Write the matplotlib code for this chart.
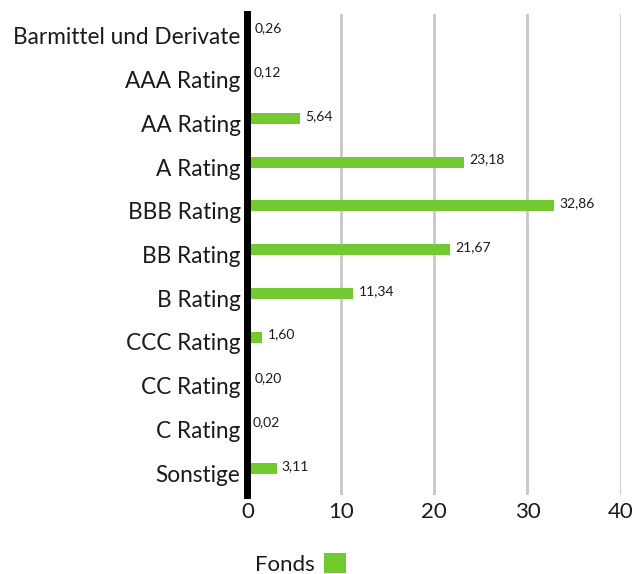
import numpy as np
import matplotlib
matplotlib.use("Agg")
import matplotlib.pyplot as plt

plt.rcParams['font.family'] = ['Lato', 'DejaVu Sans']

categories = ["Barmittel und Derivate", "AAA Rating", "AA Rating", "A Rating",
              "BBB Rating", "BB Rating", "B Rating", "CCC Rating", "CC Rating",
              "C Rating", "Sonstige"]
fonds = [0.26, 0.12, 5.64, 23.18, 32.86, 21.67, 11.34, 1.60, 0.20, 0.02, 3.11]
series_name = "Fonds"
xticks = [0, 10, 20, 30, 40]

green = "#72c930"
text_col = "#1a1a1a"

fig = plt.figure(figsize=(6.35, 5.74), dpi=100)
ax = fig.add_axes([247.5 / 635, 1 - 495 / 574, 373.2 / 635, 481 / 574])

y = np.arange(len(categories))
ax.barh(y - 0.11, fonds, height=0.25, color=green, label=series_name, zorder=3)

for yi, v in zip(y, fonds):
    ax.text(v + 0.55, yi - 0.17, f"{v:.2f}".replace(".", ","), fontsize=10,
            color=text_col, va="center", ha="left", zorder=4)

ax.set_xlim(0, 40)
ax.set_ylim(len(categories) - 0.5, -0.5)
ax.set_yticks(y)
ax.set_yticklabels(categories, fontsize=16.3, color=text_col)
ax.set_xticks(xticks)
ax.set_xticklabels([str(t) for t in xticks], fontsize=16, color=text_col)

ax.grid(axis="x", color="#c8c8c8", linewidth=2, zorder=0)
ax.grid(axis="y", visible=False)
for s in ["top", "right", "bottom"]:
    ax.spines[s].set_visible(False)
ax.spines["left"].set_linewidth(5)
ax.spines["left"].set_color("black")
ax.spines["left"].set_zorder(5)
ax.tick_params(axis="y", length=0, pad=5)
ax.tick_params(axis="x", length=0, pad=5)

fig.legend(loc="center", bbox_to_anchor=(0.473, 0.0174), frameon=False,
           markerfirst=False, handlelength=1.0, handleheight=1.0,
           handletextpad=0.4, borderpad=0, fontsize=16,
           labelcolor=text_col)

fig.savefig("out.png", dpi=100)
